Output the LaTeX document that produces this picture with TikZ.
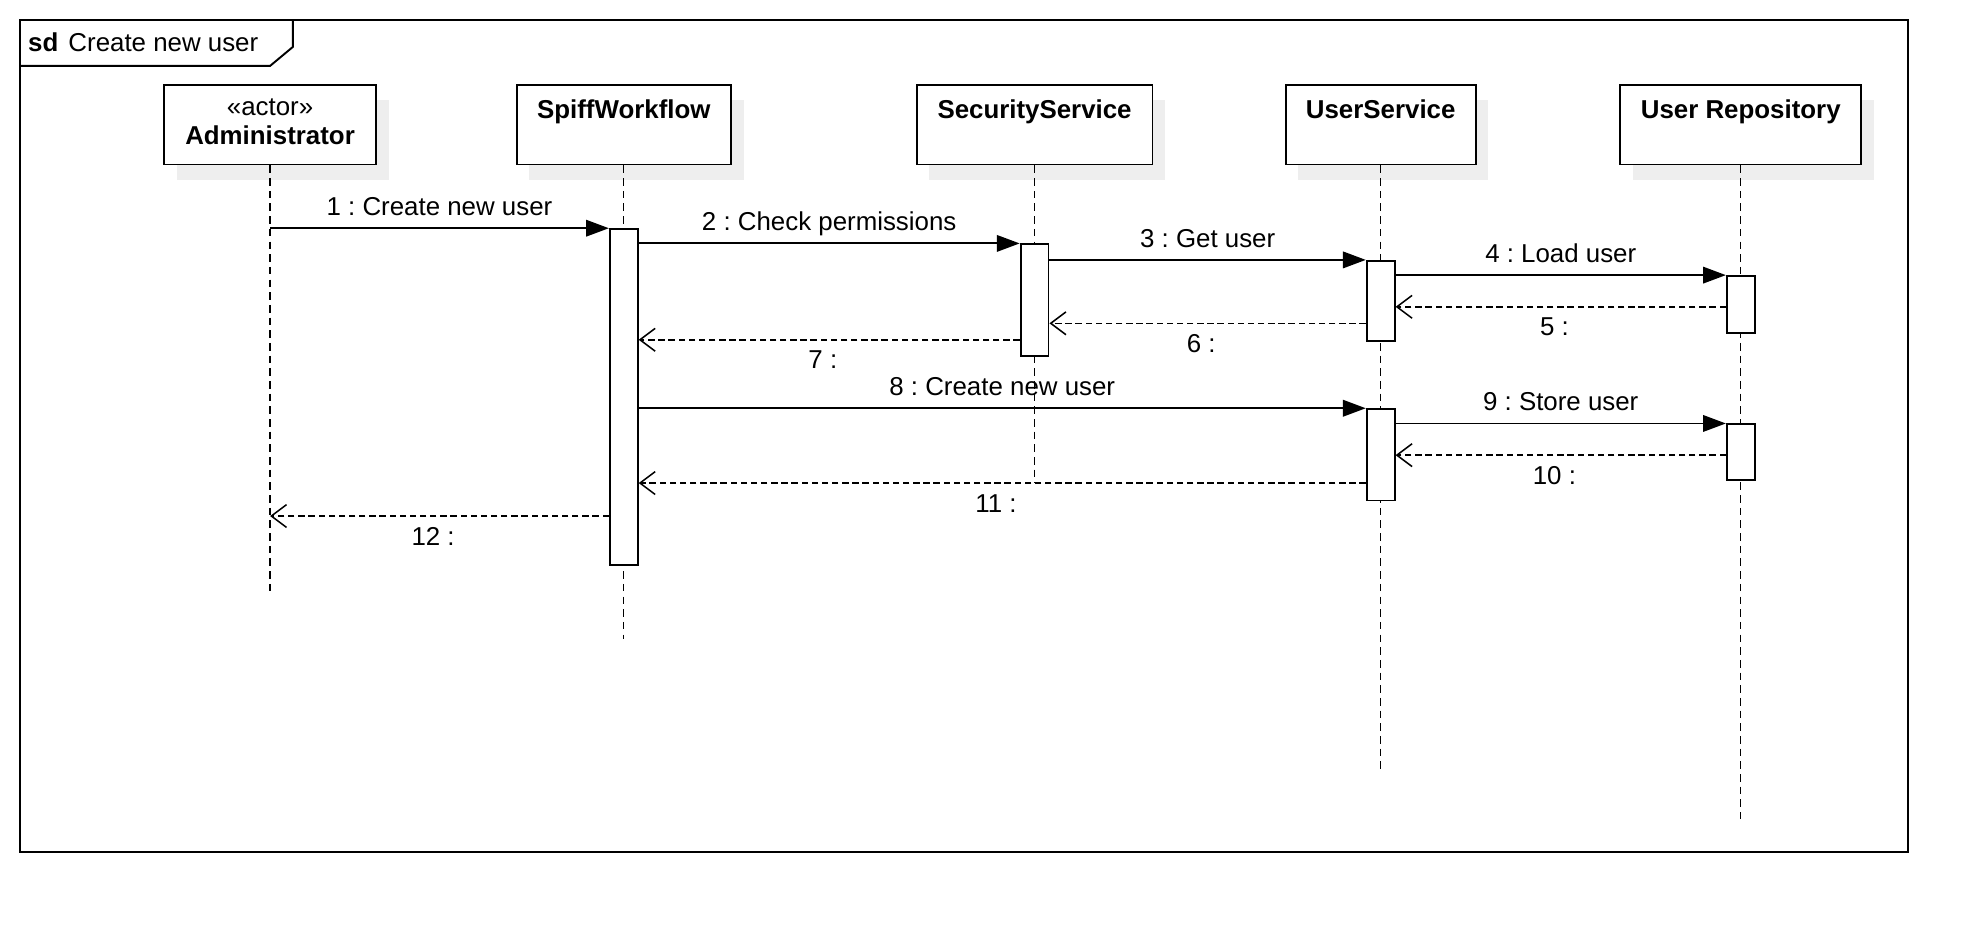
\documentclass[tikz,border=0pt]{standalone}
\usepackage{fontspec}
\setmainfont{Liberation Sans}
\usetikzlibrary{arrows.meta,shadows}

\definecolor{shadowgray}{HTML}{EEEEEE}
\newcommand\msgfont{\fontsize{20.4pt}{25pt}\selectfont}
\newcommand\headfont{\msgfont\bfseries}
\frenchspacing

\tikzset{
  framebox/.style={line width=1.5pt},
  lifehead/.style={draw, fill=white, line width=1.5pt, minimum height=63pt,
    anchor=north, inner sep=0pt,
    general shadow={fill=shadowgray, shadow xshift=10pt, shadow yshift=-12pt}},
  headtext/.style={anchor=north, yshift=-9pt, font=\headfont},
  lifeline/.style={line width=1pt, dash pattern=on 6pt off 4pt},
  actbar/.style={draw, fill=white, line width=1.5pt, minimum width=22pt,
    inner sep=0pt, anchor=north},
  syncmsg/.style={line width=1.5pt, -{Triangle[length=18pt,width=13pt]}},
  returnmsg/.style={line width=1.2pt, dash pattern=on 5pt off 3pt,
    -{Straight Barb[length=12pt,width=18pt,line width=1.2pt]}},
  msglabel/.style={midway, above=6pt, text depth=0pt, font=\msgfont},
  retlabel/.style={midway, below=5pt, xshift=-5pt, font=\msgfont}
}

\begin{document}
\begin{tikzpicture}[x=1pt,y=-1pt]
\useasboundingbox (0,0) rectangle (1568,735);

% frame
\draw[framebox] (16,16) rectangle (1505,672);
\draw[framebox] (16,52) -- (213,52) -- (231,37) -- (231,16);
\node[anchor=west, inner sep=0pt, font=\msgfont] (title) at (22,33) {\textbf{sd}\hspace{8pt}Create new user};

% heads
\node[lifehead, minimum width=167pt,
  label={[anchor=north, yshift=-8pt, align=center, font=\fontsize{20.4pt}{23pt}\selectfont]north:{«actor»\\\textbf{Administrator}}}]
  (admin) at (213,66) {};
\node[lifehead, minimum width=169pt, label={[headtext]north:SpiffWorkflow}] (spiff) at (492,66) {};
\node[lifehead, minimum width=186pt, label={[headtext]north:SecurityService}] (security) at (816,66) {};
\node[lifehead, minimum width=150pt, label={[headtext]north:UserService}] (usersvc) at (1089,66) {};
\node[lifehead, minimum width=190pt, label={[headtext]north:User Repository}] (userrepo) at (1373,66) {};

% lifelines
\coordinate (admin-end) at (213,466);
\coordinate (spiff-end) at (492,504);
\coordinate (security-end) at (816,381);
\coordinate (usersvc-end) at (1089,608);
\coordinate (userrepo-end) at (1373,646);
\draw[lifeline] (admin) -- (admin-end);
\draw[lifeline] (spiff) -- (spiff-end);
\draw[lifeline] (security) -- (security-end);
\draw[lifeline] (usersvc) -- (usersvc-end);
\draw[lifeline] (userrepo) -- (userrepo-end);

% activations
\node[actbar, minimum height=265pt] (actspiff) at (492,180) {};
\node[actbar, minimum height=88pt] (actsec) at (816,192) {};
\node[actbar, minimum height=63pt] (actus1) at (1089,205) {};
\node[actbar, minimum height=72pt] (actus2) at (1089,322) {};
\node[actbar, minimum height=45pt] (actur1) at (1373,217) {};
\node[actbar, minimum height=44pt] (actur2) at (1373,334) {};

% messages
\draw[syncmsg] (admin |- actspiff.north) -- (actspiff.north west) node[msglabel] {1 : Create new user};
\draw[syncmsg] (actspiff.east |- actsec.north) -- (actsec.north west) node[msglabel] {2 : Check permissions};
\draw[syncmsg] (actsec.east |- actus1.north) -- (actus1.north west) node[msglabel] {3 : Get user};
\draw[syncmsg] (actus1.east |- actur1.north) -- (actur1.north west) node[msglabel] {4 : Load user};
\draw[returnmsg] (actur1.west |- 0,242) -- (actus1.east |- 0,242) node[retlabel] {5 :};
\draw[returnmsg] (actus1.west |- 0,255) -- (actsec.east |- 0,255) node[retlabel] {6 :};
\draw[returnmsg] (actsec.west |- 0,268) -- (actspiff.east |- 0,268) node[retlabel] {7 :};
\draw[syncmsg] (actspiff.east |- actus2.north) -- (actus2.north west) node[msglabel] {8 : Create new user};
\draw[syncmsg] (actus2.east |- actur2.north) -- (actur2.north west) node[msglabel] {9 : Store user};
\draw[returnmsg] (actur2.west |- 0,359) -- (actus2.east |- 0,359) node[retlabel] {10 :};
\draw[returnmsg] (actus2.west |- 0,381) -- (actspiff.east |- 0,381) node[retlabel] {11 :};
\draw[returnmsg] (actspiff.west |- 0,407) -- (admin |- 0,407) node[retlabel] {12 :};
\end{tikzpicture}
\end{document}
